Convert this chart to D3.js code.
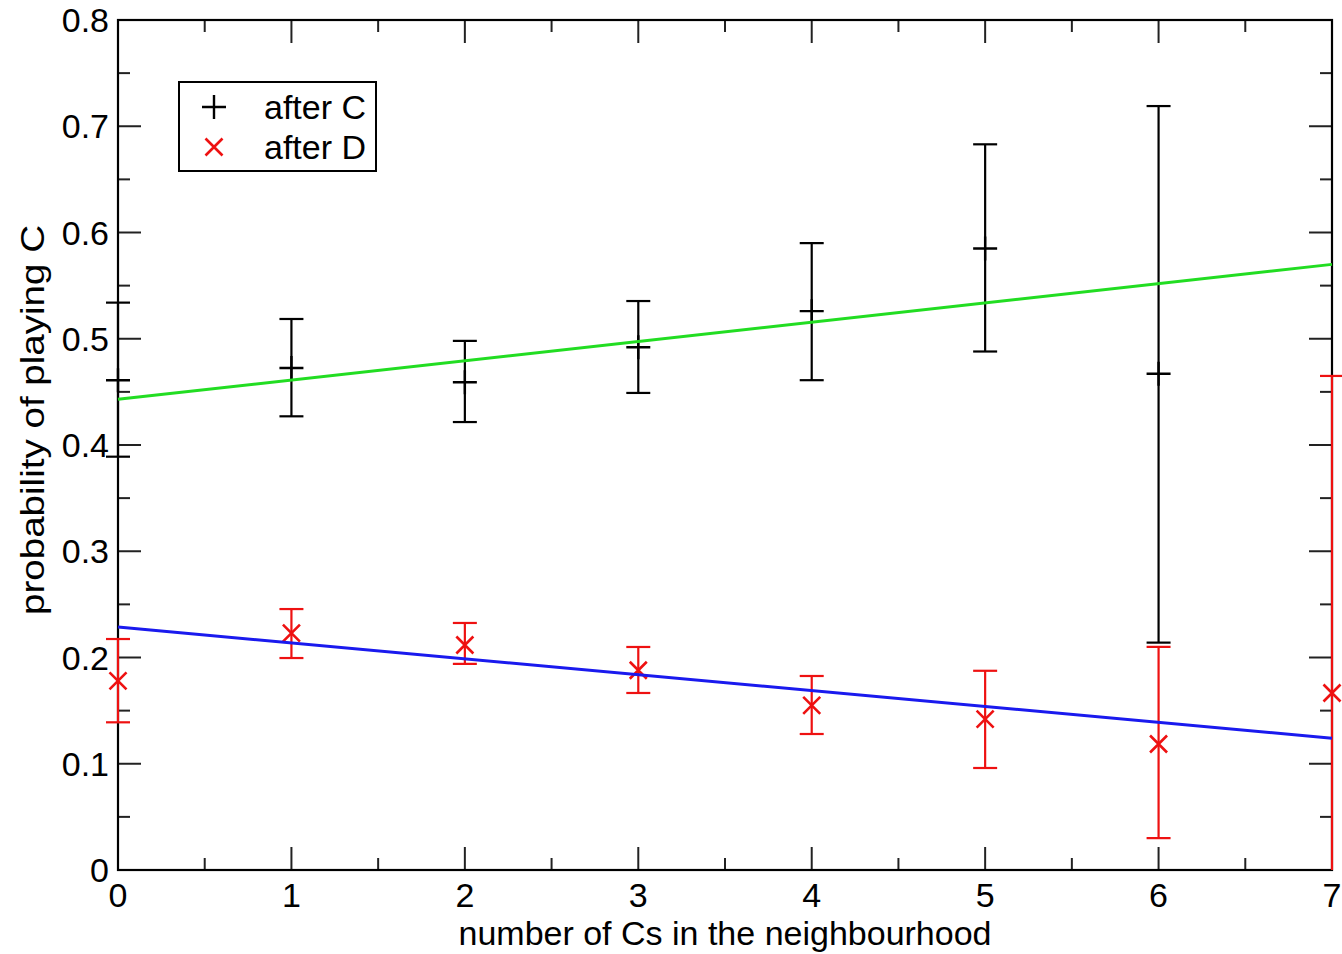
<!DOCTYPE html>
<html><head><meta charset="utf-8">
<script src="https://cdn.jsdelivr.net/npm/d3@7/dist/d3.min.js"></script>
<style>
html,body{margin:0;padding:0;background:#fff;}
text{font-family:"Liberation Sans",Arial,Helvetica,sans-serif;fill:#000;}
</style></head>
<body>
<svg id="chart" width="1342" height="954"></svg>
<script>
// ---- data ----
const xTickLabels = ["0","1","2","3","4","5","6","7"];
const yTickLabels = ["0","0.1","0.2","0.3","0.4","0.5","0.6","0.7","0.8"];
const afterCX    = [0, 1, 2, 3, 4, 5, 6];
const afterC     = [0.461, 0.4725, 0.459, 0.492, 0.526, 0.585, 0.467];
const afterCLow  = [0.389, 0.427, 0.4216, 0.449, 0.461, 0.488, 0.214];
const afterCHigh = [0.534, 0.5186, 0.498, 0.5355, 0.590, 0.683, 0.719];
const afterDX    = [0, 1, 2, 3, 4, 5, 6, 7];
const afterD     = [0.178, 0.223, 0.2118, 0.188, 0.155, 0.142, 0.1186, 0.1666];
const afterDLow  = [0.139, 0.1995, 0.194, 0.1666, 0.128, 0.096, 0.030, -0.13];
const afterDHigh = [0.2174, 0.2456, 0.2325, 0.2099, 0.1826, 0.1875, 0.21, 0.465];
const fitX       = [0, 7];
const fitC       = [0.443, 0.570];
const fitD       = [0.2287, 0.124];
const legendLabels = ["after C", "after D"];
const xLabel = "number of Cs in the neighbourhood";
const yLabel = "probability of playing C";

// ---- layout ----
const L = 118, R = 1332, T = 20, B = 870;
const svg = d3.select("#chart");
const x = d3.scaleLinear().domain([0, 7]).range([L, R]);
const y = d3.scaleLinear().domain([0, 0.8]).range([B, T]);
const clampY = v => y(Math.max(0, Math.min(0.8, v)));
const FS = 34;

// ticks (inward, all four sides)
const g = svg.append("g");
const xMajor = d3.range(0, 7.001, 1), xMinor = d3.range(0.5, 7, 1);
const yMajor = d3.range(0, 0.8001, 0.1), yMinor = d3.range(0.05, 0.8, 0.1);
const MJ = 23, MN = 12;
function tickLine(x1,y1,x2,y2){ g.append("line").attr("x1",x1).attr("y1",y1).attr("x2",x2).attr("y2",y2).attr("stroke","#222").attr("stroke-width",2); }
xMajor.forEach(v=>{ tickLine(x(v),B,x(v),B-MJ); tickLine(x(v),T,x(v),T+MJ); });
xMinor.forEach(v=>{ tickLine(x(v),B,x(v),B-MN); tickLine(x(v),T,x(v),T+MN); });
yMajor.forEach(v=>{ tickLine(L,y(v),L+MJ,y(v)); tickLine(R,y(v),R-MJ,y(v)); });
yMinor.forEach(v=>{ tickLine(L,y(v),L+MN,y(v)); tickLine(R,y(v),R-MN,y(v)); });

// frame
svg.append("rect").attr("x",L).attr("y",T).attr("width",R-L).attr("height",B-T)
  .attr("fill","none").attr("stroke","#000").attr("stroke-width",2.2);

// tick labels
xMajor.forEach((v,i)=>{
  svg.append("text").attr("x",x(v)).attr("y",B+37).attr("text-anchor","middle")
    .attr("font-size",FS).text(xTickLabels[i]);
});
yMajor.forEach((v,i)=>{
  svg.append("text").attr("x",L-9).attr("y",y(v)).attr("dy","0.36em").attr("text-anchor","end")
    .attr("font-size",FS).text(yTickLabels[i]);
});

// axis titles
svg.append("text").attr("x",(L+R)/2).attr("y",945).attr("text-anchor","middle")
  .attr("font-size",FS).text(xLabel);
svg.append("text").attr("transform","translate(44,420) rotate(-90)")
  .attr("text-anchor","middle").attr("font-size",FS)
  .attr("textLength",390).attr("lengthAdjust","spacingAndGlyphs").text(yLabel);

// error bars
function errorBars(xs, lo, hi, color, cap){
  const eg = svg.append("g").attr("stroke",color).attr("stroke-width",2.2).attr("fill","none");
  xs.forEach((xv,i)=>{
    eg.append("line").attr("x1",x(xv)).attr("x2",x(xv)).attr("y1",clampY(lo[i])).attr("y2",clampY(hi[i]));
    [lo[i],hi[i]].forEach(v=>{
      if (v >= 0 && v <= 0.8)
        eg.append("line").attr("x1",x(xv)-cap).attr("x2",x(xv)+cap).attr("y1",y(v)).attr("y2",y(v));
    });
  });
}
errorBars(afterCX, afterCLow, afterCHigh, "#000", 12);
errorBars(afterDX, afterDLow, afterDHigh, "#ee1111", 12);

// markers
function plus(gr, cx, cy, s, color){
  gr.append("path").attr("d",`M${cx-s},${cy}H${cx+s}M${cx},${cy-s}V${cy+s}`)
    .attr("stroke",color).attr("stroke-width",2.4).attr("fill","none");
}
function cross(gr, cx, cy, s, color){
  gr.append("path").attr("d",`M${cx-s},${cy-s}L${cx+s},${cy+s}M${cx-s},${cy+s}L${cx+s},${cy-s}`)
    .attr("stroke",color).attr("stroke-width",2.6).attr("fill","none");
}
const mg = svg.append("g");
afterCX.forEach((xv,i)=>plus(mg, x(xv), y(afterC[i]), 12, "#000"));
afterDX.forEach((xv,i)=>cross(mg, x(xv), y(afterD[i]), 8.5, "#ee1111"));

// fit lines
const line = d3.line().x(d=>x(d[0])).y(d=>y(d[1]));
svg.append("path").datum(fitX.map((v,i)=>[v,fitC[i]])).attr("d",line)
  .attr("stroke","#22dd22").attr("stroke-width",3).attr("fill","none");
svg.append("path").datum(fitX.map((v,i)=>[v,fitD[i]])).attr("d",line)
  .attr("stroke","#1a1aee").attr("stroke-width",3).attr("fill","none");

// legend
const lg = svg.append("g");
lg.append("rect").attr("x",179).attr("y",82).attr("width",197).attr("height",89)
  .attr("fill","#fff").attr("stroke","#000").attr("stroke-width",2);
plus(lg, 214, 107, 12, "#000");
cross(lg, 214, 147, 8.5, "#ee1111");
lg.append("text").attr("x",264).attr("y",107).attr("dy","0.36em").attr("font-size",FS).text(legendLabels[0]);
lg.append("text").attr("x",264).attr("y",147).attr("dy","0.36em").attr("font-size",FS).text(legendLabels[1]);
</script>
</body></html>
